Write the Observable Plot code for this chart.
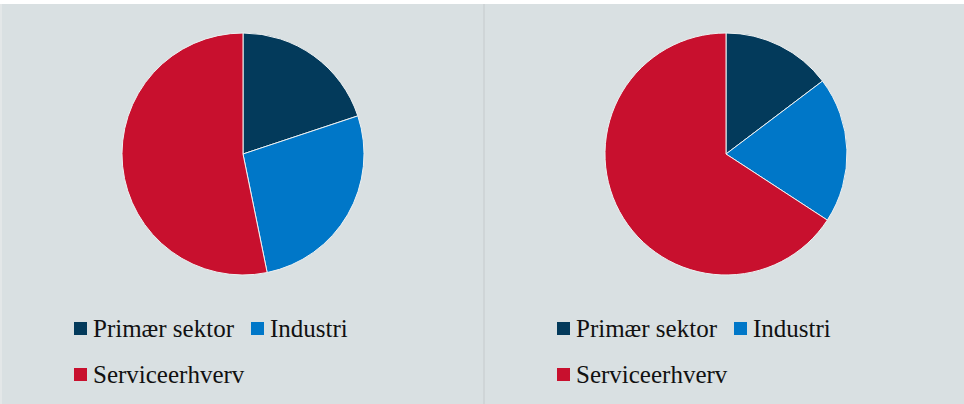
<!DOCTYPE html>
<html>
<head>
<meta charset="utf-8">
<script src="https://cdn.jsdelivr.net/npm/d3@7"></script>
<script src="https://cdn.jsdelivr.net/npm/@observablehq/plot@0.6"></script>
<style>
  html, body { margin: 0; padding: 0; background: #ffffff; }
  body { width: 964px; height: 404px; overflow: hidden; position: relative; }
  #wrap { position: absolute; top: 4px; left: 0; display: flex; height: 400px; }
  .edge { width: 2px; height: 400px; background: #e3e7e8; }
  .sep { width: 2px; height: 400px; background: #cfd5d7; }
  .panel { position: relative; width: 481px; height: 400px; background: #d9e0e2; }
  .panel svg { display: block; background: transparent; }
  .legend { position: absolute; left: 72px; top: 302px; width: 300px; display: flex; flex-wrap: wrap;
            column-gap: 17px; row-gap: 0; font-family: "Liberation Serif", "DejaVu Serif", serif; font-size: 25px; color: #111; }
  .item { display: flex; align-items: center; height: 45.5px; line-height: 45.5px; }
  .sw { width: 13px; height: 13px; margin-right: 6px; }
</style>
</head>
<body>
<div id="wrap"></div>
<script>
const categories = ["Primær sektor", "Industri", "Serviceerhverv"];
const sectorColors = ["#033a5b", "#0077c8", "#c8102e"];
const valuesLeft = [19.9, 26.9, 53.2];
const valuesRight = [14.7, 19.5, 65.8];

const colorScale = Plot.scale({color: {type: "ordinal", domain: categories, range: sectorColors}});

function pieMark(rows) {
  return (index, scales, values, dimensions) => {
    const {width, height, marginLeft, marginRight, marginTop, marginBottom} = dimensions;
    let cx, cy, r;
    if (scales && scales.x && scales.y) {
      cx = scales.x(0); cy = scales.y(0); r = Math.abs(scales.x(1) - scales.x(0));
    } else {
      cx = marginLeft + (width - marginLeft - marginRight) / 2;
      cy = marginTop + (height - marginTop - marginBottom) / 2;
      r = (width - marginLeft - marginRight) / 2;
    }
    const arcs = d3.pie().sort(null).value(d => d.value)(rows);
    const g = d3.create("svg:g").attr("transform", `translate(${cx},${cy})`);
    g.selectAll("path").data(arcs).join("path")
      .attr("d", d3.arc().innerRadius(0).outerRadius(r))
      .attr("fill", d => colorScale.apply(d.data.category))
      .attr("stroke", "#eef1f2")
      .attr("stroke-width", 1)
      .attr("stroke-linejoin", "round");
    return g.node();
  };
}

function makePanel(values) {
  const rows = categories.map((c, i) => ({category: c, value: values[i]}));
  const panel = document.createElement("div");
  panel.className = "panel";
  const chart = Plot.plot({
    width: 481,
    height: 300,
    marginLeft: 120,
    marginRight: 119,
    marginTop: 29,
    marginBottom: 29,
    style: {background: "transparent"},
    x: {domain: [-1, 1], axis: null},
    y: {domain: [-1, 1], axis: null},
    marks: [pieMark(rows)]
  });
  panel.appendChild(chart);
  const legend = document.createElement("div");
  legend.className = "legend";
  categories.forEach(c => {
    const it = document.createElement("div");
    it.className = "item";
    const sw = document.createElement("div");
    sw.className = "sw";
    sw.style.background = colorScale.apply(c);
    const tx = document.createElement("span");
    tx.textContent = c;
    it.appendChild(sw); it.appendChild(tx);
    legend.appendChild(it);
  });
  panel.appendChild(legend);
  return panel;
}

const wrap = document.getElementById("wrap");
const e = document.createElement("div"); e.className = "edge"; wrap.appendChild(e);
wrap.appendChild(makePanel(valuesLeft));
const s = document.createElement("div"); s.className = "sep"; wrap.appendChild(s);
wrap.appendChild(makePanel(valuesRight));
</script>
</body>
</html>
